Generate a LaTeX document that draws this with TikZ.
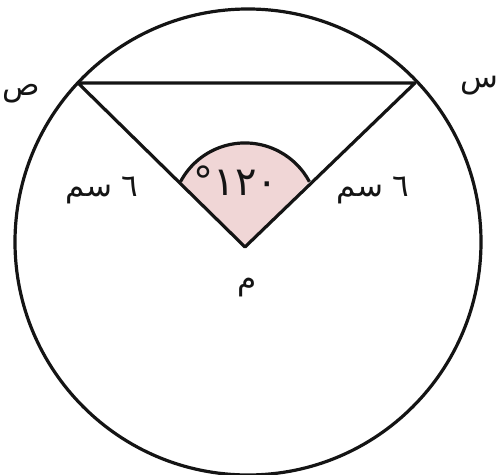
\documentclass[tikz,border=0pt]{standalone}
\usepackage{fontspec}
\usepackage{tikz}
\usetikzlibrary{calc}
\TeXXeTstate=1
\newfontfamily\arabicfont[Script=Arabic]{DejaVu Sans}
\definecolor{crcLine}{HTML}{141414}
\definecolor{crcSector}{HTML}{F0D6D6}
\tikzset{
  crcline/.style={draw=crcLine, line width=3.2pt, line join=round},
  sectorfill/.style={fill=crcSector},
  lbl/.style={font=\arabicfont\fontsize{31}{36}\selectfont, inner sep=0pt, text=crcLine},
  anglbl/.style={lbl, font=\arabicfont\fontsize{40}{46}\selectfont}
}

\begin{document}
\begin{tikzpicture}[x=1pt,y=1pt]
  \useasboundingbox (0,0) rectangle (498,474);
  \coordinate (o) at (248,232);
  \coordinate (m) at (245,227);
  \coordinate (sad) at (78,391);
  \coordinate (sin) at (415,391);
  \coordinate (arcstart) at (180.5,292.3);
  \fill[sectorfill] (m) -- (arcstart) arc[start angle=152, end angle=28, radius=73] -- cycle;
  \draw[crcline] (arcstart) arc[start angle=152, end angle=28, radius=73];
  \draw[crcline] (sad) -- (m) -- (sin) -- cycle;
  \draw[crcline] (o) circle[radius=233];
  \node[anglbl] (ang) at (236,293) {\beginR ١٢٠°\endR};
  \node[lbl] (lenl) at (102,284) {\beginR ٦ سم\endR};
  \node[lbl] (lenr) at (373,284) {\beginR ٦ سم\endR};
  \node[lbl] (mlbl) at (247,186) {\beginR م\endR};
  \node[lbl, anchor=west] (sadlbl) at (2,380) {\beginR ص\endR};
  \node[lbl, anchor=west] (sinlbl) at (460,388) {\beginR س\endR};
\end{tikzpicture}
\end{document}
